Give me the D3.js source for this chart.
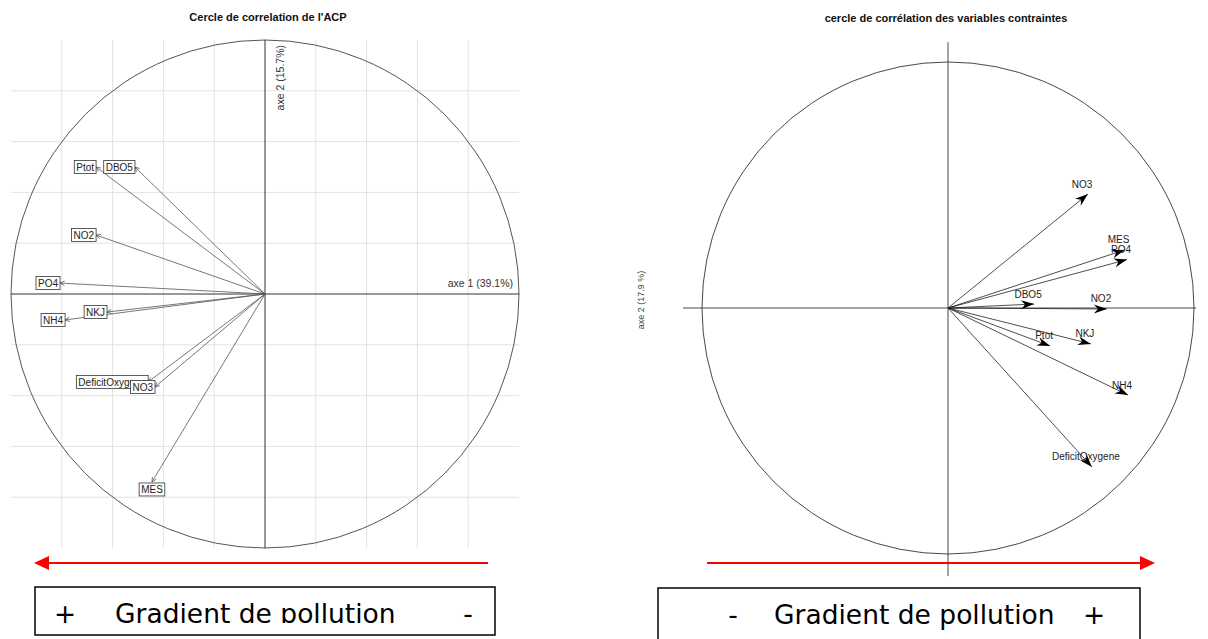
<!DOCTYPE html>
<html><head><meta charset="utf-8">
<script src="https://cdn.jsdelivr.net/npm/d3@7"></script>
<style>body{margin:0;background:#fff}svg{display:block}</style>
</head><body><svg id="c" width="1208" height="639"></svg>
<script>
// ---------- data ----------
const pcaVars = ["Ptot","DBO5","NO2","PO4","NKJ","NH4","DeficitOxygene","NO3","MES"];
const pcaAxis1 = [-0.665,-0.512,-0.665,-0.807,-0.622,-0.787,-0.46,-0.433,-0.445];
const pcaAxis2 = [0.50,0.50,0.232,0.043,-0.071,-0.102,-0.346,-0.366,-0.74];
const pcaTitle = "Cercle de correlation de l'ACP";
const pcaAxisLabels = ["axe 1 (39.1%)","axe 2 (15.7%)"];
const gridTicks = [-0.8,-0.6,-0.4,-0.2,0.2,0.4,0.6,0.8];

const rdaVars = ["NO3","MES","PO4","DBO5","NO2","Ptot","NKJ","NH4","DeficitOxygene"];
const rdaAxis1 = [0.569,0.718,0.728,0.35,0.646,0.415,0.581,0.732,0.585];
const rdaAxis2 = [0.463,0.236,0.197,0.016,-0.004,-0.154,-0.146,-0.354,-0.646];
const rdaTitle = "cercle de corrélation des variables contraintes";
const rdaAxisLabel = "axe 2 (17.9 %)";

const gradLeft = ["+","Gradient de pollution","-"];
const gradRight = ["-","Gradient de pollution","+"];

// ---------- setup ----------
const svg = d3.select("#c");
svg.append("rect").attr("width",1208).attr("height",639).attr("fill","#fff");
const FONT = "'Liberation Sans', Arial, sans-serif";

// ---------- left chart (PCA) ----------
const cxL = 265, cyL = 294, rL = 254;
const xL = d3.scaleLinear().domain([-1,1]).range([cxL-rL, cxL+rL]);
const yL = d3.scaleLinear().domain([-1,1]).range([cyL+rL, cyL-rL]);
const gL = svg.append("g");
gL.selectAll("line.gv").data(gridTicks).join("line")
  .attr("x1",d=>xL(d)).attr("x2",d=>xL(d)).attr("y1",yL(1)).attr("y2",yL(-1))
  .attr("stroke","#e3e3e3").attr("stroke-width",1);
gL.selectAll("line.gh").data(gridTicks).join("line")
  .attr("y1",d=>yL(d)).attr("y2",d=>yL(d)).attr("x1",xL(-1)).attr("x2",xL(1))
  .attr("stroke","#e3e3e3").attr("stroke-width",1);
gL.append("circle").attr("cx",xL(0)).attr("cy",yL(0)).attr("r",xL(1)-xL(0))
  .attr("fill","none").attr("stroke","#555").attr("stroke-width",1);
gL.append("line").attr("x1",xL(-1)).attr("x2",xL(1)).attr("y1",yL(0)).attr("y2",yL(0)).attr("stroke","#333");
gL.append("line").attr("x1",xL(0)).attr("x2",xL(0)).attr("y1",yL(1)).attr("y2",yL(-1)).attr("stroke","#333");
gL.append("text").attr("x",xL(1)-6).attr("y",yL(0)-7).attr("text-anchor","end")
  .attr("font-family",FONT).attr("font-size",10.5).attr("fill","#333").text(pcaAxisLabels[0]);
gL.append("text").attr("transform",`translate(${xL(0)+19},${yL(1)+5}) rotate(-90)`).attr("text-anchor","end")
  .attr("font-family",FONT).attr("font-size",10.5).attr("fill","#333").text(pcaAxisLabels[1]);
gL.append("text").attr("x",268).attr("y",21).attr("text-anchor","middle")
  .attr("font-family",FONT).attr("font-weight","bold").attr("font-size",11).attr("fill","#111").text(pcaTitle);

pcaVars.forEach((v,i)=>{
  const x0=xL(0), y0=yL(0), x1=xL(pcaAxis1[i]), y1=yL(pcaAxis2[i]);
  gL.append("line").attr("x1",x0).attr("y1",y0).attr("x2",x1).attr("y2",y1)
    .attr("stroke","#555").attr("stroke-width",0.8);
  const a = Math.atan2(y1-y0,x1-x0), L=5, s=0.45;
  const p = `M${x1-L*Math.cos(a-s)},${y1-L*Math.sin(a-s)}L${x1},${y1}L${x1-L*Math.cos(a+s)},${y1-L*Math.sin(a+s)}`;
  gL.append("path").attr("d",p).attr("fill","none").attr("stroke","#555").attr("stroke-width",0.8);
});
pcaVars.forEach((v,i)=>{
  const x0=xL(0), y0=yL(0), x1=xL(pcaAxis1[i]), y1=yL(pcaAxis2[i]);
  const g = gL.append("g");
  const t = g.append("text").attr("font-family",FONT).attr("font-size",10).attr("fill","#222").text(v);
  const w = t.node().getComputedTextLength()+4, h=13;
  let bx, by;
  if (Math.abs(y1-y0) > 1.5*Math.abs(x1-x0)) { bx = x1-w/2; by = y1+1; }
  else { bx = x1-w; by = y1-h/2; }
  g.insert("rect","text").attr("x",bx).attr("y",by).attr("width",w).attr("height",h)
    .attr("fill","#fff").attr("stroke","#333").attr("stroke-width",0.8);
  t.attr("x",bx+2).attr("y",by+10.5);
});

// ---------- right chart (RDA) ----------
const cxR = 948, cyR = 308, rR = 246;
const xR = d3.scaleLinear().domain([-1,1]).range([cxR-rR, cxR+rR]);
const yR = d3.scaleLinear().domain([-1,1]).range([cyR+rR, cyR-rR]);
const gR = svg.append("g");
gR.append("circle").attr("cx",xR(0)).attr("cy",yR(0)).attr("r",xR(1)-xR(0))
  .attr("fill","none").attr("stroke","#333").attr("stroke-width",0.9);
gR.append("line").attr("x1",xR(-1.077)).attr("x2",xR(1.008)).attr("y1",yR(0)).attr("y2",yR(0)).attr("stroke","#333").attr("stroke-width",0.9);
gR.append("line").attr("x1",xR(0)).attr("x2",xR(0)).attr("y1",yR(1.08)).attr("y2",yR(-1.09)).attr("stroke","#333").attr("stroke-width",0.9);
gR.append("text").attr("x",946).attr("y",22).attr("text-anchor","middle")
  .attr("font-family",FONT).attr("font-weight","bold").attr("font-size",11).attr("fill","#111").text(rdaTitle);
gR.append("text").attr("transform",`translate(644,300) rotate(-90)`).attr("text-anchor","middle")
  .attr("font-family",FONT).attr("font-size",9).attr("fill","#444").text(rdaAxisLabel);

rdaVars.forEach((v,i)=>{
  const x0=xR(0), y0=yR(0), x1=xR(rdaAxis1[i]), y1=yR(rdaAxis2[i]);
  gR.append("line").attr("x1",x0).attr("y1",y0).attr("x2",x1).attr("y2",y1)
    .attr("stroke","#222").attr("stroke-width",0.8);
  const a = Math.atan2(y1-y0,x1-x0)*180/Math.PI;
  gR.append("path").attr("d","M0,0L-13,-4.5L-9,0L-13,4.5Z")
    .attr("transform",`translate(${x1},${y1}) rotate(${a})`).attr("fill","#000");
});
rdaVars.forEach((v,i)=>{
  const x1=xR(rdaAxis1[i]), y1=yR(rdaAxis2[i]);
  gR.append("text").attr("x",x1-6).attr("y",y1-10).attr("text-anchor","middle")
    .attr("dominant-baseline","central")
    .attr("font-family",FONT).attr("font-size",10).attr("fill","#222").text(v);
});

// ---------- gradient arrows and boxes ----------
function redArrow(xs, xe, y){
  const dir = Math.sign(xe-xs);
  svg.append("line").attr("x1",xs).attr("x2",xe-dir*12).attr("y1",y).attr("y2",y)
    .attr("stroke","#ff0000").attr("stroke-width",2);
  svg.append("path").attr("d",`M${xe},${y}L${xe-dir*15},${y-7}L${xe-dir*15},${y+7}Z`).attr("fill","#ff0000");
}
redArrow(488, 34, 563);
redArrow(707, 1155, 563);

const defs = svg.append("defs");
defs.append("clipPath").attr("id","clipL").append("rect").attr("x",35).attr("y",587).attr("width",460).attr("height",36);
svg.append("rect").attr("x",35).attr("y",587).attr("width",460).attr("height",48)
  .attr("fill","#fff").attr("stroke","#000").attr("stroke-width",1.5);
const tl = svg.append("g").attr("clip-path","url(#clipL)")
  .attr("font-family","'DejaVu Sans', Verdana, sans-serif").attr("font-size",26.5).attr("fill","#000");
tl.append("text").attr("x",65).attr("y",623).attr("text-anchor","middle").text(gradLeft[0]);
tl.append("text").attr("x",115).attr("y",623).text(gradLeft[1]);
tl.append("text").attr("x",468).attr("y",623).attr("text-anchor","middle").text(gradLeft[2]);

svg.append("rect").attr("x",658).attr("y",588).attr("width",482).attr("height",60)
  .attr("fill","#fff").attr("stroke","#000").attr("stroke-width",1.5);
const tr = svg.append("g").attr("font-family","'DejaVu Sans', Verdana, sans-serif").attr("font-size",26.5).attr("fill","#000");
tr.append("text").attr("x",733).attr("y",624).attr("text-anchor","middle").text(gradRight[0]);
tr.append("text").attr("x",774).attr("y",624).text(gradRight[1]);
tr.append("text").attr("x",1094).attr("y",624).attr("text-anchor","middle").text(gradRight[2]);
</script></body></html>
